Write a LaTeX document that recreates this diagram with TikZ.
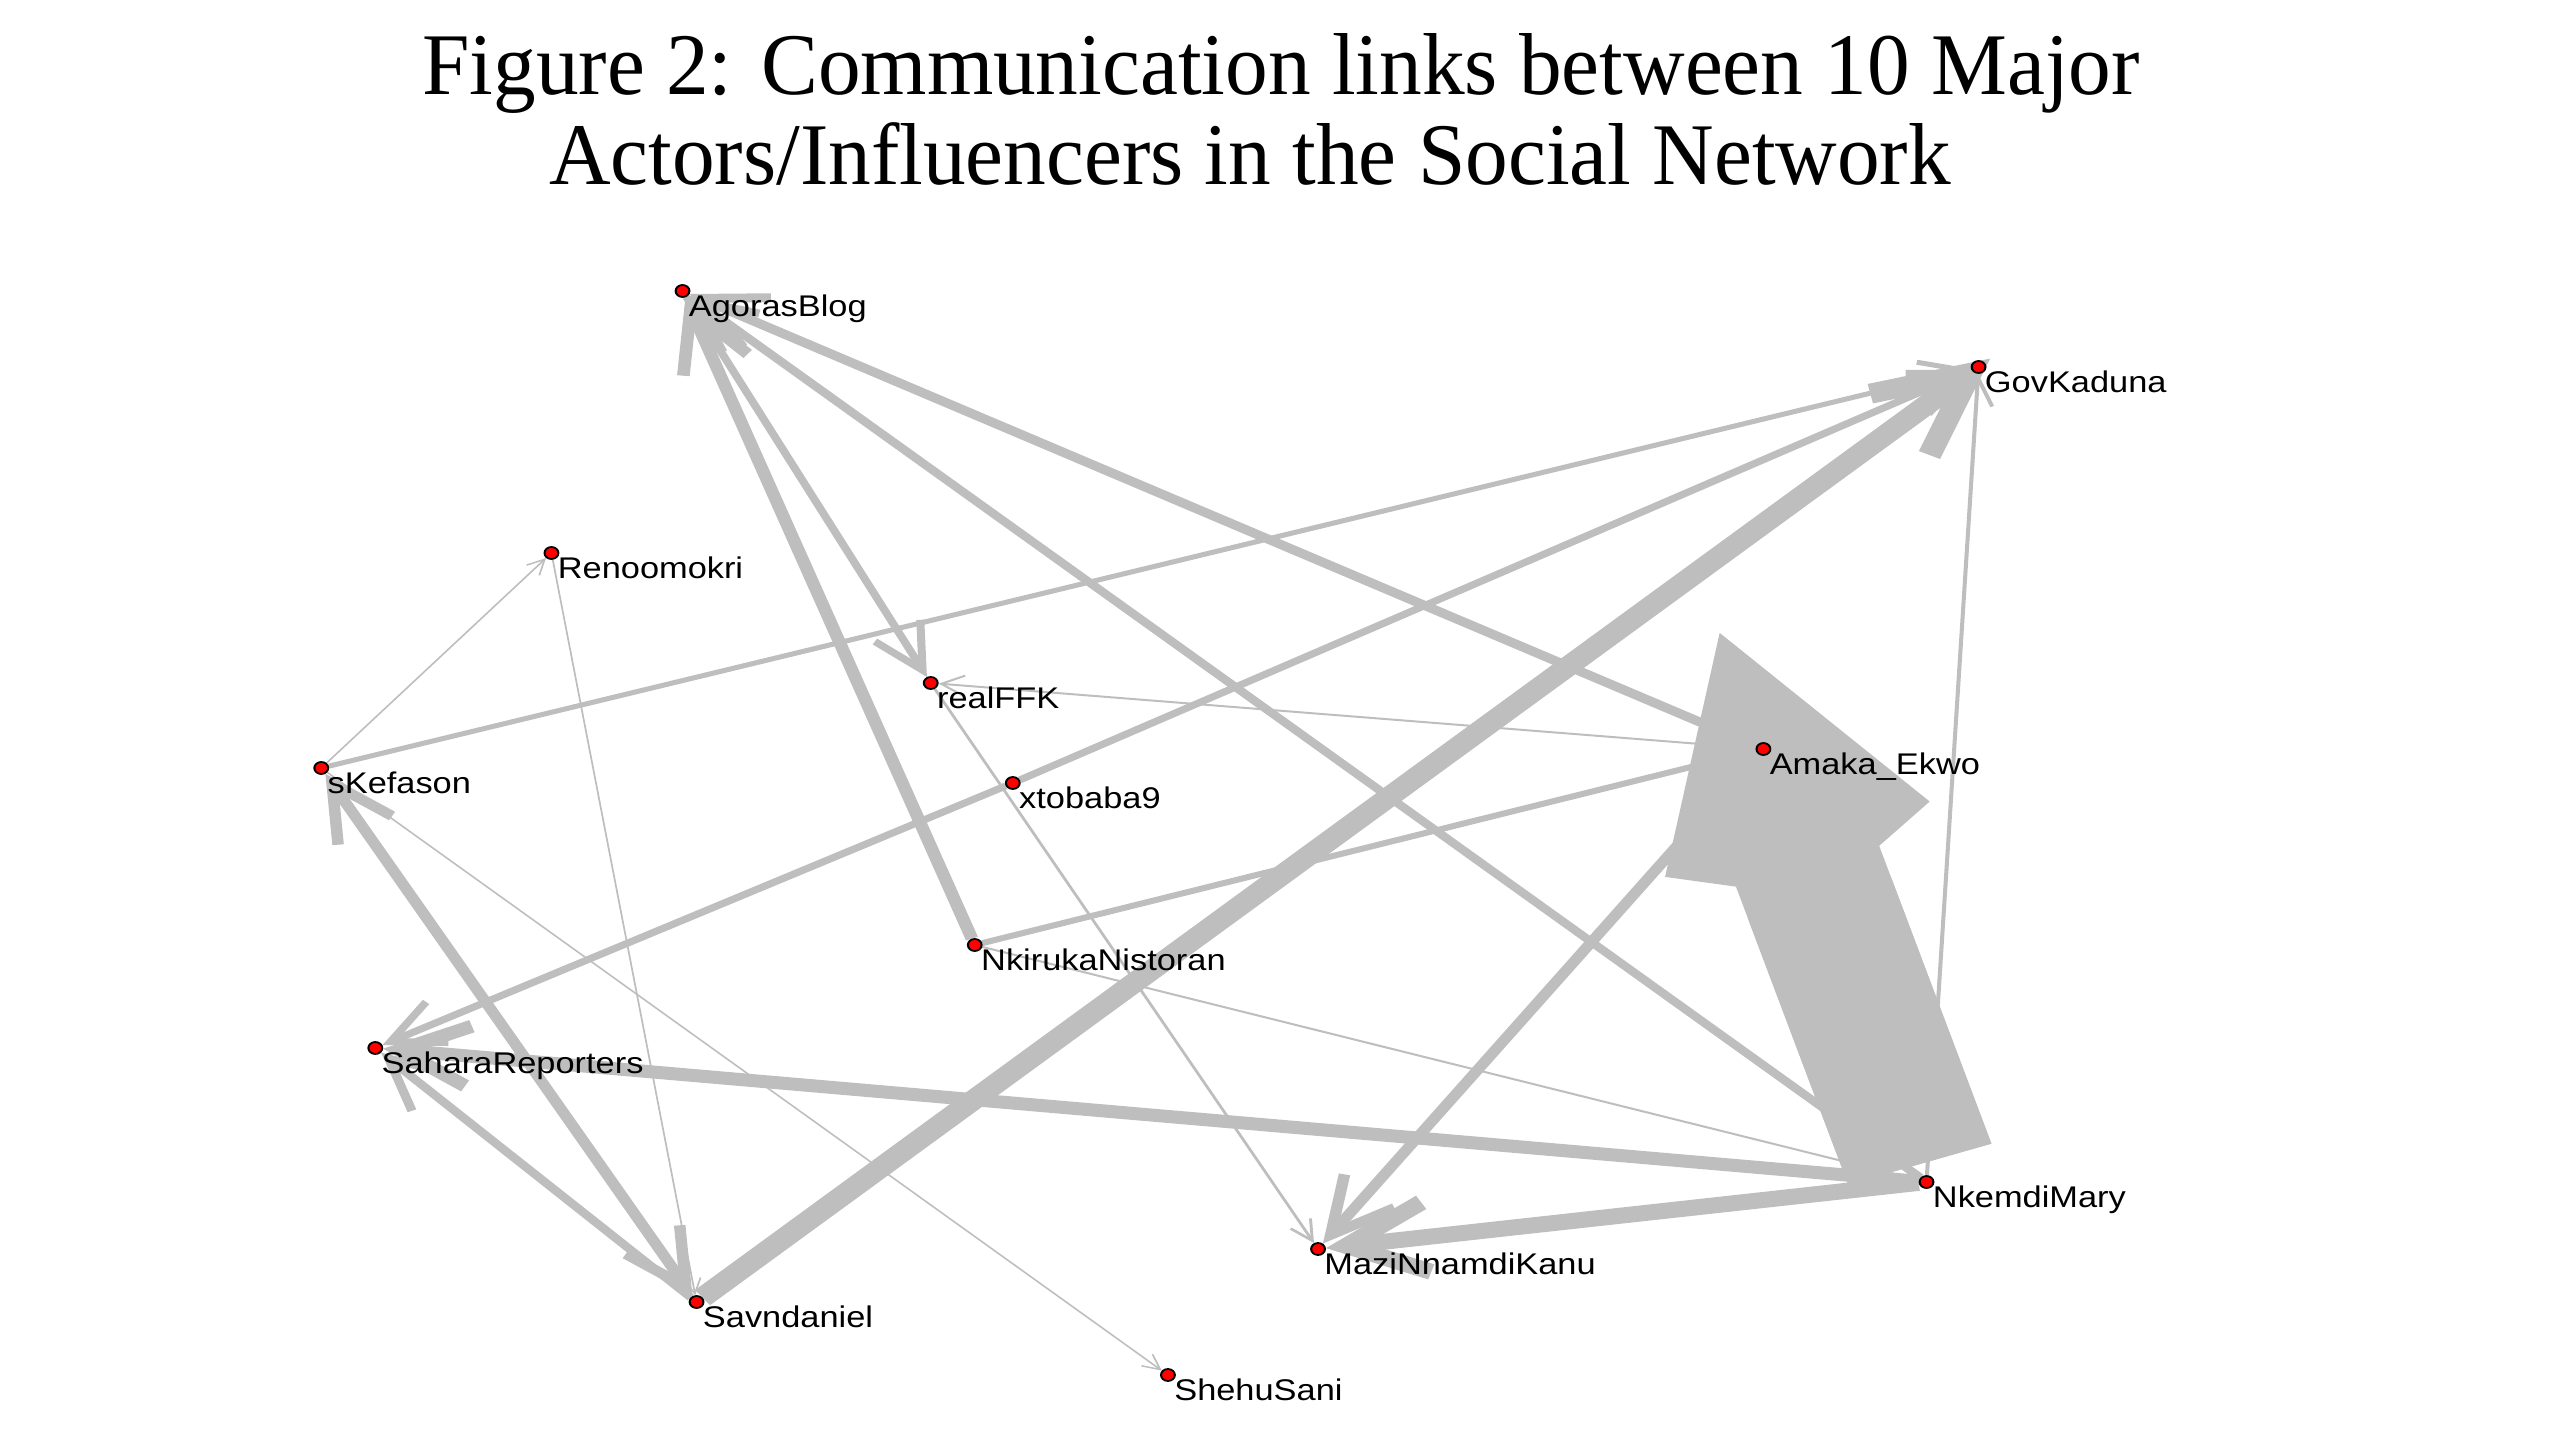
\documentclass[tikz,border=0pt]{standalone}
\usepackage{fontspec}
\usepackage{tikz}
\usetikzlibrary{arrows.meta,backgrounds}
\newfontfamily\actorfont{Liberation Sans}
\newfontfamily\titlefont[FakeStretch=0.97]{Liberation Serif}
\definecolor{linkgray}{RGB}{190,190,190}
\tikzset{
  plot/.style={transform canvas={xscale=1.15},x=0.0086957cm,y=-0.01cm},
  actor/.style={circle,draw=black,fill=red,line width=0.5pt,inner sep=0pt,minimum size=0.12cm,
    label={[inner sep=0pt,text height=0.2cm,text depth=0pt,font=\actorfont\fontsize{8.5}{10}\selectfont]south east:#1}},
  tie/.style={draw=linkgray,line width=#1},
  onehead/.style={-{Straight Barb[length=#1,width=#1]}},
  twoheads/.style={{Straight Barb[length=#1,width=#1]}-{Straight Barb[length=#1,width=#1]}}
}
\begin{document}
\begin{tikzpicture}[x=0.01cm,y=-0.01cm]
\useasboundingbox (0,0) rectangle (2560,1440);
\node[anchor=base,inner sep=0pt,font=\titlefont\fontsize{25}{30}\selectfont](ttl1)at(1281,95){Figure 2: Communication links between 10 Major};
\node[anchor=base,inner sep=0pt,font=\titlefont\fontsize{25}{30}\selectfont](ttl2)at(1250,185){Actors/Influencers in the Social Network};
\begin{scope}[plot]
\node[actor=AgorasBlog](ab)at(682,291){};
\node[actor=GovKaduna](gk)at(1977,367){};
\node[actor=Renoomokri](ro)at(551,553){};
\node[actor=realFFK](rf)at(930,683){};
\node[actor=sKefason](sk)at(321,768){};
\node[actor=xtobaba9](xt)at(1012,783){};
\node[actor=Amaka\_Ekwo](ae)at(1762,749){};
\node[actor=NkirukaNistoran](nn)at(974,945){};
\node[actor=SaharaReporters](sr)at(375,1048){};
\node[actor=NkemdiMary](nm)at(1925,1182){};
\node[actor=MaziNnamdiKanu](mk)at(1317,1249){};
\node[actor=Savndaniel](sd)at(696,1302){};
\node[actor=ShehuSani](ss)at(1167,1375){};
\end{scope}
\begin{pgfonlayer}{background}
\begin{scope}[plot]
\draw[tie=0.015cm,onehead=0.15cm](sk)--(ro);
\draw[tie=0.015cm,onehead=0.15cm](ro)--(sd);
\draw[tie=0.015cm,onehead=0.15cm](sk)--(ss);
\draw[tie=0.02cm,onehead=0.2cm](ae)--(rf);
\draw[tie=0.025cm,onehead=0.2cm](rf)--(mk);
\draw[tie=0.02cm,onehead=0.2cm](nn)--(nm);
\draw[tie=0.035cm,onehead=0.28cm](nm)--(gk);
\draw[tie=0.05cm,onehead=0.38cm](sk)--(gk);
\draw[tie=0.06cm,onehead=0.38cm](nn)--(ae);
\draw[tie=0.07cm,onehead=0.45cm](ab)--(rf);
\draw[tie=0.07cm,onehead=0.45cm](xt)--(gk);
\draw[tie=0.07cm,onehead=0.45cm](xt)--(sr);
\draw[tie=0.08cm,onehead=0.5cm](nm)--(ab);
\draw[tie=0.08cm,onehead=0.5cm](sd)--(sr);
\draw[tie=0.09cm,onehead=0.55cm](ae)--(ab);
\draw[tie=0.11cm,onehead=0.6cm](nn)--(ab);
\draw[tie=0.1cm,twoheads=0.55cm](sk)--(sd);
\draw[tie=0.1cm,onehead=0.55cm](ae)--(mk);
\draw[tie=0.13cm,onehead=0.6cm](nm)--(sr);
\draw[tie=0.16cm,onehead=0.7cm](nm)--(mk);
\draw[tie=0.2cm,onehead=0.8cm,shorten >=-0.2cm](sd)--(gk);
\draw[tie=1.31cm,shorten <=0.12cm,shorten >=1.12cm](nm)--(ae);
\draw[tie=1.31cm,shorten <=0.12cm,shorten >=-1.29cm,-{Stealth[length=2.17cm,width=2.42cm,inset=-0.62cm,line width=0pt]}](nm)--(ae);
\end{scope}
\end{pgfonlayer}
\end{tikzpicture}
\end{document}
